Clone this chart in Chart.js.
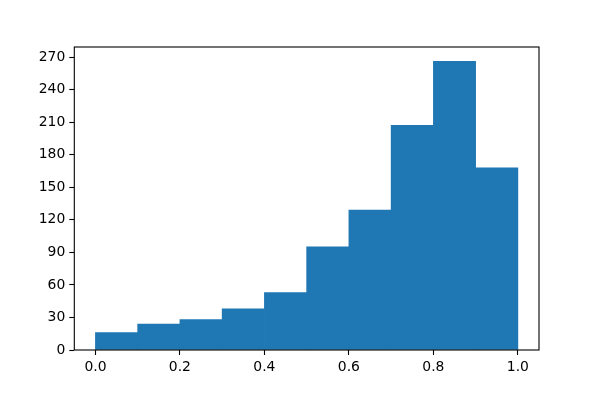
<!DOCTYPE html>
<html>
<head>
<meta charset="utf-8">
<script src="https://cdn.jsdelivr.net/npm/chart.js@4"></script>
<style>
  html, body { margin: 0; padding: 0; background: #fff; }
  #wrap { width: 600px; height: 400px; }
</style>
</head>
<body>
<div id="wrap"><canvas id="myChart" width="600" height="400"></canvas></div>
<script>
// histogram bins (left edges) and counts
const binEdges = [0.0, 0.1, 0.2, 0.3, 0.4, 0.5, 0.6, 0.7, 0.8, 0.9];
const binWidth = 0.1;
const counts = [16, 24, 28, 38, 53, 95, 129, 207, 266, 168];
const xTicks = [0.0, 0.2, 0.4, 0.6, 0.8, 1.0];
const yTicks = [0, 30, 60, 90, 120, 150, 180, 210, 240, 270];

const tickFont = { family: "DejaVu Sans", size: 13.9 };

// matplotlib-style frame around the plot area
const framePlugin = {
  id: 'frame',
  afterDraw(chart) {
    const { ctx, chartArea } = chart;
    ctx.save();
    ctx.strokeStyle = '#000';
    ctx.lineWidth = 1.1;
    ctx.strokeRect(chartArea.left, chartArea.top, chartArea.right - chartArea.left, chartArea.bottom - chartArea.top);
    ctx.restore();
  }
};

const data = {
  datasets: [{
    label: 'counts',
    data: binEdges.map((e, i) => ({ x: e + binWidth / 2, y: counts[i] })),
    backgroundColor: '#1f77b4',
    borderWidth: 0,
    barPercentage: 1.0,
    categoryPercentage: 1.0,
  }]
};

const options = {
  responsive: false,
  animation: false,
  layout: { padding: { top: 47, right: 61, bottom: 0, left: 0 } },
  plugins: { legend: { display: false }, tooltip: { enabled: false } },
  scales: {
    x: {
      type: 'linear',
      min: -0.05,
      max: 1.05,
      offset: false,
      afterBuildTicks: (scale) => { scale.ticks = xTicks.map(v => ({ value: v })); },
      afterFit: (scale) => { scale.height = 50; },
      grid: { offset: false, drawOnChartArea: false, tickLength: 5, tickColor: '#000', tickWidth: 1.1 },
      border: { display: false },
      ticks: {
        color: '#000',
        font: tickFont,
        padding: 4,
        maxRotation: 0,
        callback: (v) => Number(v).toFixed(1),
      },
    },
    y: {
      min: 0,
      max: 279.3,
      afterBuildTicks: (scale) => { scale.ticks = yTicks.map(v => ({ value: v })); },
      afterFit: (scale) => { scale.width = 74.3; },
      grid: { drawOnChartArea: false, tickLength: 5, tickColor: '#000', tickWidth: 1.1 },
      border: { display: false },
      ticks: {
        color: '#000',
        font: tickFont,
        padding: 4,
        callback: (v) => String(v),
      },
    },
  },
};

const ctx = document.getElementById('myChart').getContext('2d');
new Chart(ctx, { type: 'bar', data: data, options: options, plugins: [framePlugin] });
</script>
</body>
</html>
